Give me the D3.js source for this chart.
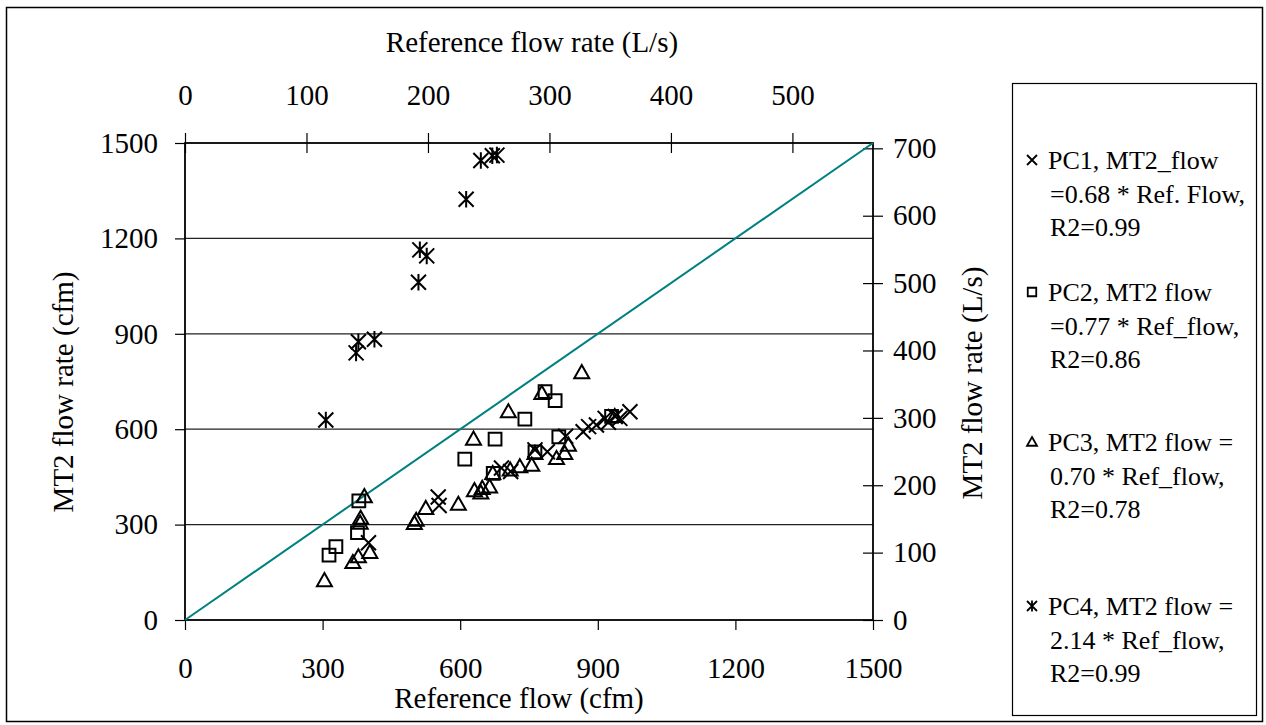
<!DOCTYPE html>
<html>
<head>
<meta charset="utf-8">
<script src="https://cdn.jsdelivr.net/npm/d3@7"></script>
<style>
  body { margin: 0; background: #fff; }
  text { font-family: "Liberation Serif", "Times New Roman", serif; fill: #000; }
</style>
</head>
<body>
<svg id="grafico"></svg>
<script>
const largura = 1266;
const altura = 725;
const margem = { top: 143, right: 393, bottom: 105, left: 185 };
const cfmPorLs = 2.1189;

// dados (cfm): [referência, MT2]
const pc1 = [[400,243],[552,387],[554,360],[690,478],[710,467],[763,535],[790,529],[830,578],
             [868,592],[880,608],[897,613],[916,634],[923,622],[938,640],[948,634],[970,655]];
const pc2 = [[314,204],[329,231],[376,275],[379,375],[610,506],[672,461],[676,569],[741,632],
             [763,529],[785,718],[807,690],[815,576],[930,640]];
const pc3 = [[304,124],[366,181],[378,199],[403,213],[382,305],[383,320],[391,388],[500,304],
             [504,314],[525,351],[596,364],[629,569],[631,407],[645,400],[648,414],[664,419],
             [671,461],[705,655],[709,472],[730,482],[756,487],[763,524],[778,713],[810,508],
             [828,524],[836,550],[865,778],[937,640]];
const pc4 = [[307,629],[373,840],[378,875],[413,883],[509,1062],[512,1164],[527,1145],
             [613,1323],[645,1445],[670,1460],[680,1462]];
const linha11 = [[0,0],[1500,1500]];

const ticksCfm = [0, 300, 600, 900, 1200, 1500];
const ticksLs = [0, 100, 200, 300, 400, 500, 600, 700];
const ticksTopo = [0, 100, 200, 300, 400, 500];

const legendas = [
  { simbolo: "x", linhas: ["PC1, MT2_flow", "=0.68 * Ref. Flow,", "R2=0.99"] },
  { simbolo: "quadrado", linhas: ["PC2, MT2 flow", "=0.77 * Ref_flow,", "R2=0.86"] },
  { simbolo: "triangulo", linhas: ["PC3, MT2 flow =", "0.70 * Ref_flow,", "R2=0.78"] },
  { simbolo: "asterisco", linhas: ["PC4, MT2 flow =", "2.14 * Ref_flow,", "R2=0.99"] }
];

const svg = d3.select("#grafico").attr("width", largura).attr("height", altura);

// moldura externa
svg.append("rect").attr("x", 6.5).attr("y", 7.5).attr("width", 1256).attr("height", 714)
  .attr("fill", "none").attr("stroke", "#000").attr("stroke-width", 1.5);

// escalas
const x = d3.scaleLinear().domain([0, 1500]).range([margem.left, largura - margem.right]);
const y = d3.scaleLinear().domain([0, 1500]).range([altura - margem.bottom, margem.top]);
const xTopo = d3.scaleLinear().domain([0, 1200 / cfmPorLs]).range(x.range());
const yDir = d3.scaleLinear().domain([0, 1500 / cfmPorLs]).range(y.range());
const fmt = d3.format("d");

// grade
svg.append("g").selectAll("line").data(ticksCfm.slice(1, -1)).join("line")
  .attr("x1", x(0)).attr("x2", x(1500))
  .attr("y1", d => y(d)).attr("y2", d => y(d))
  .attr("stroke", "#222").attr("stroke-width", 1.2);

// moldura da área de plotagem
svg.append("rect").attr("x", x(0)).attr("y", y(1500))
  .attr("width", x(1500) - x(0)).attr("height", y(0) - y(1500))
  .attr("fill", "none").attr("stroke", "#000").attr("stroke-width", 1.8);

// eixos
const fonteEixo = "29px";
const gBaixo = svg.append("g").attr("transform", `translate(0,${y(0)})`)
  .call(d3.axisBottom(x).tickValues(ticksCfm).tickFormat(fmt).tickSize(10).tickPadding(27).tickSizeOuter(0));
const gEsq = svg.append("g").attr("transform", `translate(${x(0)},0)`)
  .call(d3.axisLeft(y).tickValues(ticksCfm).tickFormat(fmt).tickSize(10).tickPadding(17).tickSizeOuter(0));
const gTopo = svg.append("g").attr("transform", `translate(0,${y(1500)})`)
  .call(d3.axisTop(xTopo).tickValues(ticksTopo).tickFormat(fmt).tickSize(10).tickPadding(28).tickSizeOuter(0));
gTopo.selectAll(".tick line").attr("y1", 10);
const gDir = svg.append("g").attr("transform", `translate(${x(1500)},0)`)
  .call(d3.axisRight(yDir).tickValues(ticksLs).tickFormat(fmt).tickSize(10).tickPadding(10).tickSizeOuter(0));
gDir.selectAll(".tick line").attr("x1", -10);

[gBaixo, gEsq, gTopo, gDir].forEach(g => {
  g.select(".domain").remove();
  g.selectAll(".tick line").attr("stroke", "#000").attr("stroke-width", 1.2);
  g.selectAll(".tick text").attr("font-size", fonteEixo)
    .attr("font-family", "Liberation Serif").attr("fill", "#000");
});

// títulos
svg.append("text").attr("x", 532).attr("y", 52).attr("text-anchor", "middle")
  .attr("font-size", fonteEixo).text("Reference flow rate (L/s)");
svg.append("text").attr("x", 519).attr("y", 708).attr("text-anchor", "middle")
  .attr("font-size", fonteEixo).text("Reference flow (cfm)");
svg.append("text").attr("transform", "translate(73,392) rotate(-90)").attr("text-anchor", "middle")
  .attr("font-size", fonteEixo).text("MT2 flow rate (cfm)");
svg.append("text").attr("transform", "translate(982,383) rotate(-90)").attr("text-anchor", "middle")
  .attr("font-size", fonteEixo).text("MT2 flow rate (L/s)");

// linha 1:1
svg.append("path").datum(linha11)
  .attr("fill", "none").attr("stroke", "#008080").attr("stroke-width", 2)
  .attr("d", d3.line().x(d => x(d[0])).y(d => y(d[1])));

// marcadores
function caminho(tipo, r) {
  const p = d3.path();
  if (tipo === "x") {
    p.moveTo(-r, -r); p.lineTo(r, r); p.moveTo(-r, r); p.lineTo(r, -r);
  } else if (tipo === "quadrado") {
    const s = r * 0.85;
    p.rect(-s, -s, 2 * s, 2 * s);
  } else if (tipo === "triangulo") {
    p.moveTo(0, -r); p.lineTo(r, r * 0.75); p.lineTo(-r, r * 0.75); p.closePath();
  } else {
    p.moveTo(-r, -r); p.lineTo(r, r); p.moveTo(-r, r); p.lineTo(r, -r);
    p.moveTo(0, -r * 1.1); p.lineTo(0, r * 1.1);
  }
  return p.toString();
}

const series = [
  { dados: pc3, simbolo: "triangulo" },
  { dados: pc2, simbolo: "quadrado" },
  { dados: pc1, simbolo: "x" },
  { dados: pc4, simbolo: "asterisco" }
];
series.forEach(s => {
  svg.append("g").selectAll("path").data(s.dados).join("path")
    .attr("transform", d => `translate(${x(d[0])},${y(d[1])})`)
    .attr("d", caminho(s.simbolo, 7.5))
    .attr("fill", "none").attr("stroke", "#000").attr("stroke-width", 2);
});

// legenda
svg.append("rect").attr("x", 1012.5).attr("y", 83.5).attr("width", 244).attr("height", 632)
  .attr("fill", "none").attr("stroke", "#000").attr("stroke-width", 1.2);
const topoLegenda = [160, 292, 442, 606];
legendas.forEach((l, i) => {
  const g = svg.append("g").attr("transform", `translate(0,${topoLegenda[i]})`);
  g.append("path").attr("transform", "translate(1032,0)")
    .attr("d", caminho(l.simbolo, 5))
    .attr("fill", "none").attr("stroke", "#000").attr("stroke-width", 1.8);
  l.linhas.forEach((t, j) => {
    g.append("text").attr("x", j === 0 ? 1048 : 1050).attr("y", 9 + j * 33.5)
      .attr("font-size", "26px").text(t);
  });
});
</script>
</body>
</html>
